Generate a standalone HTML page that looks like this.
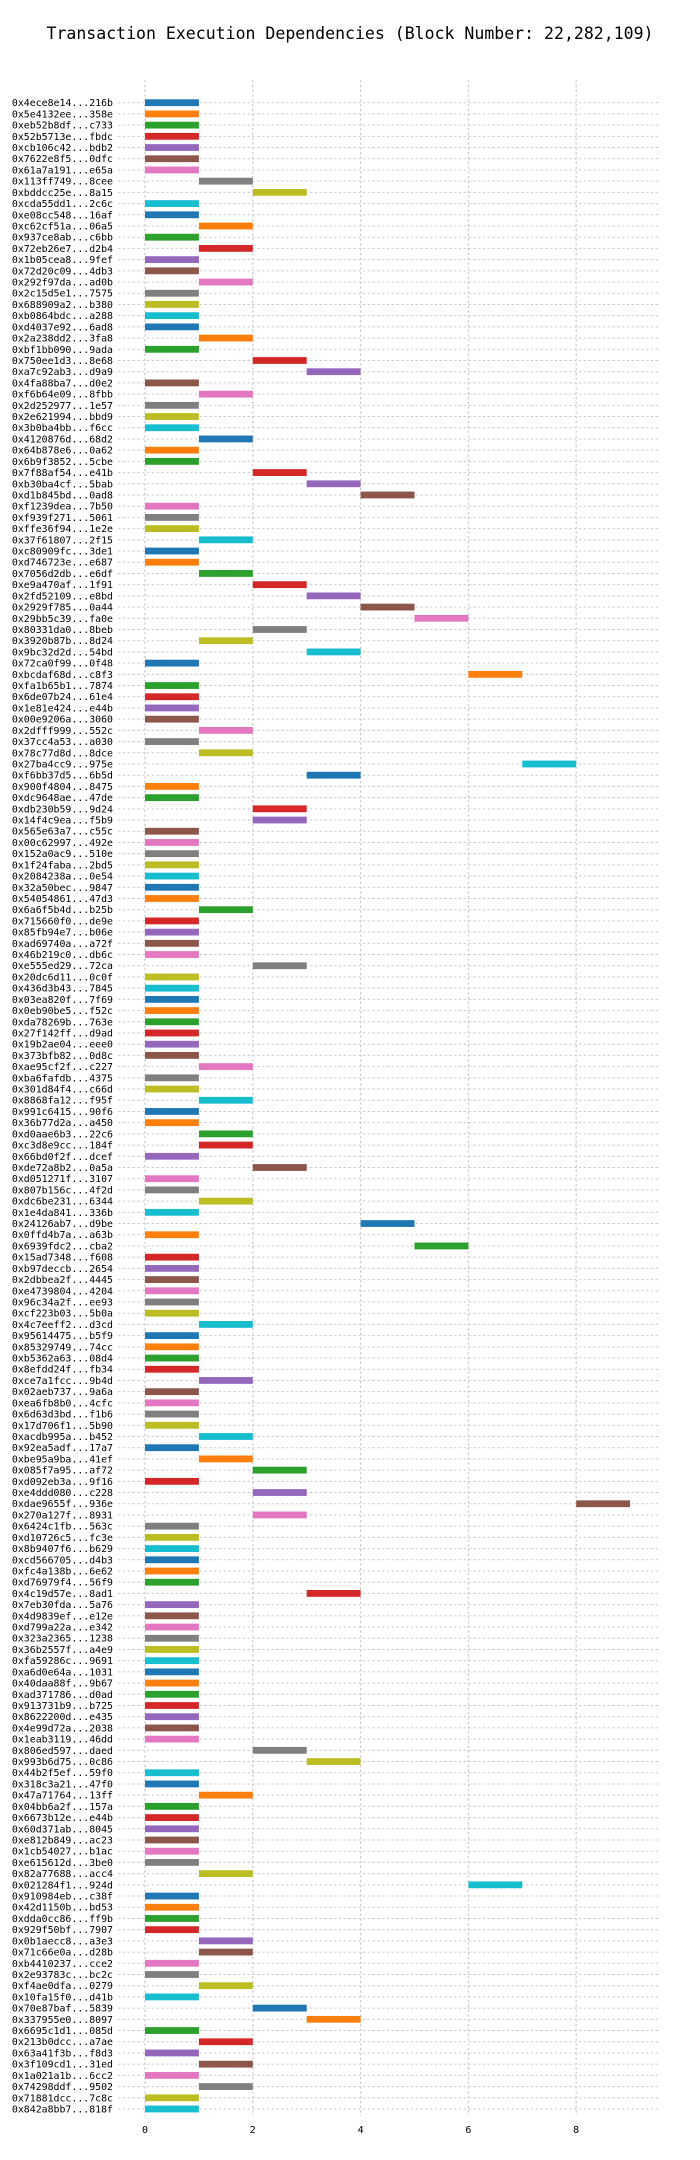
<!DOCTYPE html>
<html><head><meta charset="utf-8"><style>
body{margin:0;background:#fff;}
svg{display:block;font-family:"DejaVu Sans Mono","Liberation Mono",monospace;}
</style></head><body>
<svg id="chart" width="700" height="2160" viewBox="0 0 700 2160" xmlns="http://www.w3.org/2000/svg">
<text x="350" y="39" text-anchor="middle" font-size="16.5" textLength="607" lengthAdjust="spacingAndGlyphs" fill="#000">Transaction Execution Dependencies (Block Number: 22,282,109)</text>
<g id="grid"></g>
<g id="bars"></g>
<g id="ylabels"></g>
<g id="xticks"></g>
</svg>
<script>
const txLabels = ["0x4ece8e14...216b","0x5e4132ee...358e","0xeb52b8df...c733","0x52b5713e...fbdc","0xcb106c42...bdb2","0x7622e8f5...0dfc","0x61a7a191...e65a","0x113ff749...8cee","0xbddcc25e...8a15","0xcda55dd1...2c6c",
"0xe08cc548...16af","0xc62cf51a...06a5","0x937ce8ab...c6bb","0x72eb26e7...d2b4","0x1b05cea8...9fef","0x72d20c09...4db3","0x292f97da...ad0b","0x2c15d5e1...7575","0x688909a2...b380","0xb0864bdc...a288",
"0xd4037e92...6ad8","0x2a238dd2...3fa8","0xbf1bb090...9ada","0x750ee1d3...8e68","0xa7c92ab3...d9a9","0x4fa88ba7...d0e2","0xf6b64e09...8fbb","0x2d252977...1e57","0x2e621994...bbd9","0x3b0ba4bb...f6cc",
"0x4120876d...68d2","0x64b878e6...0a62","0x6b9f3852...5cbe","0x7f88af54...e41b","0xb30ba4cf...5bab","0xd1b845bd...0ad8","0xf1239dea...7b50","0xf939f271...5061","0xffe36f94...1e2e","0x37f61807...2f15",
"0xc80909fc...3de1","0xd746723e...e687","0x7056d2db...e6df","0xe9a470af...1f91","0x2fd52109...e8bd","0x2929f785...0a44","0x29bb5c39...fa0e","0x80331da0...8beb","0x3920b87b...8d24","0x9bc32d2d...54bd",
"0x72ca0f99...0f48","0xbcdaf68d...c8f3","0xfa1b65b1...7874","0x6de07b24...61e4","0x1e81e424...e44b","0x00e9206a...3060","0x2dfff999...552c","0x37cc4a53...a030","0x78c77d8d...8dce","0x27ba4cc9...975e",
"0xf6bb37d5...6b5d","0x900f4804...8475","0xdc9648ae...47de","0xdb230b59...9d24","0x14f4c9ea...f5b9","0x565e63a7...c55c","0x00c62997...492e","0x152a0ac9...510e","0x1f24faba...2bd5","0x2084238a...0e54",
"0x32a50bec...9847","0x54054861...47d3","0x6a6f5b4d...b25b","0x715660f0...de9e","0x85fb94e7...b06e","0xad69740a...a72f","0x46b219c0...db6c","0xe555ed29...72ca","0x20dc6d11...0c0f","0x436d3b43...7845",
"0x03ea820f...7f69","0x0eb90be5...f52c","0xda78269b...763e","0x27f142ff...d9ad","0x19b2ae04...eee0","0x373bfb82...0d8c","0xae95cf2f...c227","0xba6fafdb...4375","0x301d84f4...c66d","0x8868fa12...f95f",
"0x991c6415...90f6","0x36b77d2a...a450","0xd0aae6b3...22c6","0xc3d8e9cc...184f","0x66bd0f2f...dcef","0xde72a8b2...0a5a","0xd051271f...3107","0x807b156c...4f2d","0xdc6be231...6344","0x1e4da841...336b",
"0x24126ab7...d9be","0x0ffd4b7a...a63b","0x6939fdc2...cba2","0x15ad7348...f608","0xb97deccb...2654","0x2dbbea2f...4445","0xe4739804...4204","0x96c34a2f...ee93","0xcf223b03...5b0a","0x4c7eeff2...d3cd",
"0x95614475...b5f9","0x85329749...74cc","0xb5362a63...08d4","0x8efdd24f...fb34","0xce7a1fcc...9b4d","0x02aeb737...9a6a","0xea6fb8b0...4cfc","0x6d63d3bd...f1b6","0x17d706f1...5b90","0xacdb995a...b452",
"0x92ea5adf...17a7","0xbe95a9ba...41ef","0x085f7a95...af72","0xd092eb3a...9f16","0xe4ddd080...c228","0xdae9655f...936e","0x270a127f...8931","0x6424c1fb...563c","0xd10726c5...fc3e","0x8b9407f6...b629",
"0xcd566705...d4b3","0xfc4a138b...6e62","0xd76979f4...56f9","0x4c19d57e...8ad1","0x7eb30fda...5a76","0x4d9839ef...e12e","0xd799a22a...e342","0x323a2365...1238","0x36b2557f...a4e9","0xfa59286c...9691",
"0xa6d0e64a...1031","0x40daa88f...9b67","0xad371786...d0ad","0x913731b9...b725","0x8622200d...e435","0x4e99d72a...2038","0x1eab3119...46dd","0x806ed597...daed","0x993b6d75...0c86","0x44b2f5ef...59f0",
"0x318c3a21...47f0","0x47a71764...13ff","0x04bb6a2f...157a","0x6673b12e...e44b","0x60d371ab...8045","0xe812b849...ac23","0x1cb54027...b1ac","0xe615612d...3be0","0x82a77688...acc4","0x021284f1...924d",
"0x910984eb...c38f","0x42d1150b...bd53","0xdda0cc86...ff9b","0x929f50bf...7907","0x0b1aecc8...a3e3","0x71c66e0a...d28b","0xb4410237...cce2","0x2e93783c...bc2c","0xf4ae0dfa...0279","0x10fa15f0...d41b",
"0x70e87baf...5839","0x337955e0...8097","0x6695c1d1...085d","0x213b0dcc...a7ae","0x63a41f3b...f8d3","0x3f109cd1...31ed","0x1a021a1b...6cc2","0x74298ddf...9502","0x71881dcc...7c8c","0x842a8bb7...818f"];
const startValues = [0,0,0,0,0,0,0,1,2,0, 0,1,0,1,0,0,1,0,0,0, 0,1,0,2,3,0,1,0,0,0,
1,0,0,2,3,4,0,0,0,1, 0,0,1,2,3,4,5,2,1,3, 0,6,0,0,0,0,1,0,1,7,
3,0,0,2,2,0,0,0,0,0, 0,0,1,0,0,0,0,2,0,0, 0,0,0,0,0,0,1,0,0,1,
0,0,1,1,0,2,0,0,1,0, 4,0,5,0,0,0,0,0,0,1, 0,0,0,0,1,0,0,0,0,1,
0,1,2,0,2,8,2,0,0,0, 0,0,0,3,0,0,0,0,0,0, 0,0,0,0,0,0,0,2,3,0,
0,1,0,0,0,0,0,0,1,6, 0,0,0,0,1,1,0,0,1,0, 2,3,0,1,0,1,0,1,0,0];
const durationValues = new Array(startValues.length).fill(1);
const xTickValues = [0,2,4,6,8];
const palette = ["#1f77b4","#ff7f0e","#2ca02c","#d62728","#9467bd","#8c564b","#e377c2","#7f7f7f","#bcbd22","#17becf"];

const NS = "http://www.w3.org/2000/svg";
const xMin = -0.5, xMax = 9.52, pxZero = 145, unit = 53.9;
const x = v => pxZero + v * unit;
const rowTop = 102.7, rowStep = (2109 - 102.7) / 179;
const y = i => rowTop + i * rowStep;
const mk = (t, attrs) => { const e = document.createElementNS(NS, t); for (const k in attrs) e.setAttribute(k, attrs[k]); return e; };

const grid = document.getElementById('grid');
const bars = document.getElementById('bars');
const yl = document.getElementById('ylabels');
const xt = document.getElementById('xticks');
const gTop = 80, gBot = 2116;

xTickValues.forEach(v => {
  const l = mk('line', {x1: x(v), x2: x(v), y1: gTop, y2: gBot, stroke: '#cccccc', 'stroke-width': 1.2, 'stroke-dasharray': '2.4,2.4'});
  
  
  grid.appendChild(l);
  const t = mk('text', {x: x(v), y: 2133, 'text-anchor': 'middle', 'font-size': 10, fill: '#000'});
  t.textContent = String(v);
  
  
  xt.appendChild(t);
});

txLabels.forEach((lab, i) => {
  const cy = y(i);
  const l = mk('line', {x1: x(xMin), x2: x(xMax), y1: cy, y2: cy, stroke: '#cccccc', 'stroke-width': 1, 'stroke-dasharray': '2.4,2.4'});
  
  
  grid.appendChild(l);
  const r = mk('rect', {x: x(startValues[i]), y: cy - 3.4, width: durationValues[i] * unit, height: 6.8, fill: palette[i % 10]});
  
  
  bars.appendChild(r);
  const t = mk('text', {x: 113, y: cy + 3.5, 'text-anchor': 'end', 'font-size': 9.9, fill: '#000'});
  t.textContent = lab;
  
  
  yl.appendChild(t);
});
</script>
</body></html>
